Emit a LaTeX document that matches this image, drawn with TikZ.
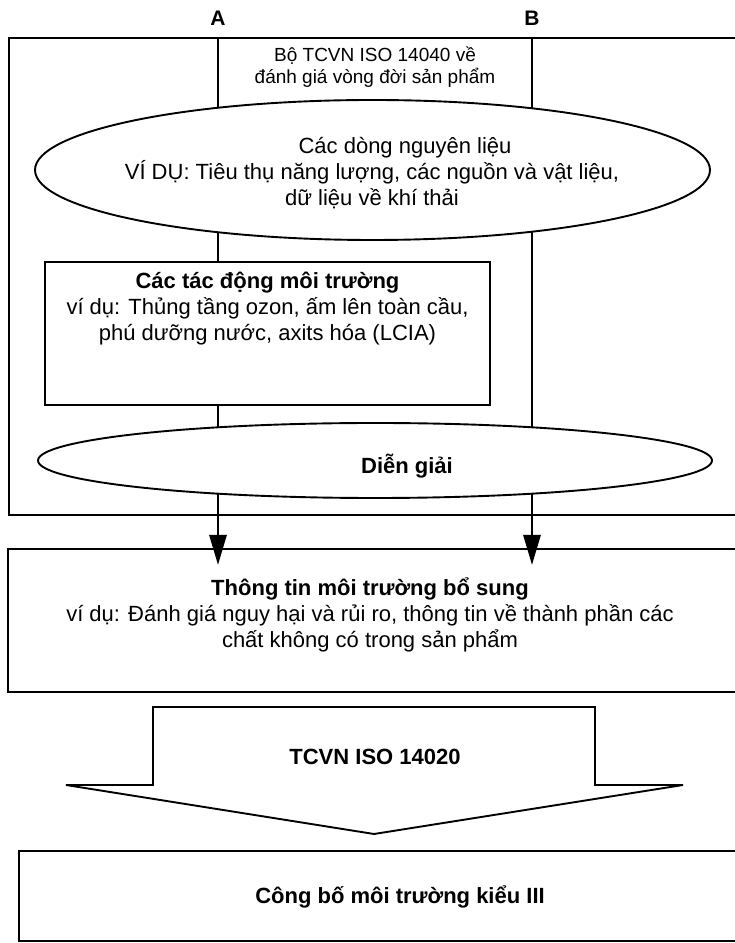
\documentclass[tikz,border=0pt]{standalone}
\usepackage{fontspec}
\setmainfont{Liberation Sans}
\usetikzlibrary{arrows.meta,shapes.geometric}

\begin{document}
\begin{tikzpicture}[x=1pt, y=1pt,
  frame/.style={draw, line width=1.9pt, fill=white, inner sep=0pt},
  oval/.style={ellipse, draw, line width=1.9pt, fill=white, inner sep=0pt},
  txt/.style={align=center, font=\fontsize{22}{26}\selectfont, inner sep=0pt},
  bold/.style={font=\fontsize{22}{26}\selectfont\bfseries, inner sep=0pt},
  head/.style={font=\fontsize{21}{24}\selectfont\bfseries, inner sep=1pt},
  flow/.style={line width=2.8pt, -{Triangle[length=30pt, width=17pt]}}]
  \useasboundingbox (0,0) rectangle (735,943);
  \clip (0,0) rectangle (735,943);
  % streams A and B
  \node[head] (A) at (218,925) {A};
  \node[head] (B) at (532,925) {B};
  % life cycle frame
  \node[frame, fill=none, anchor=north west, minimum width=737pt, minimum height=477pt] (lca) at (8,906) {};
  \node[txt, font=\fontsize{19}{22}\selectfont] (iso) at (375,876) {Bộ TCVN ISO 14040 về\\đánh giá vòng đời sản phẩm};
  % additional information
  \node[frame, anchor=north west, minimum width=738pt, minimum height=143pt] (info) at (7,395) {};
  \node[txt] (infotext) at (370,328) {\textbf{Thông tin môi trường bổ sung}\\ví dụ: Đánh giá nguy hại và rủi ro, thông tin về thành phần các\\chất không có trong sản phẩm};
  \draw[flow] (A |- lca.north) -- ([yshift=-17pt]A |- info.north);
  \draw[flow] (B |- lca.north) -- ([yshift=-17pt]B |- info.north);
  % inventory, impacts, interpretation
  \node[oval, minimum width=675pt, minimum height=140pt] (flows) at (372.5,773) {};
  \node[txt] (flowtext) at (372,770) {\hspace*{66pt}Các dòng nguyên liệu\\VÍ DỤ: Tiêu thụ năng lượng, các nguồn và vật liệu,\\dữ liệu về khí thải};
  \node[frame, minimum width=445pt, minimum height=143pt] (impact) at (267.5,609.5) {};
  \node[txt] (impacttext) at (267.5,634) {\textbf{Các tác động môi trường}\\ví dụ: Thủng tầng ozon, ấm lên toàn cầu,\\phú dưỡng nước, axits hóa (LCIA)};
  \node[oval, minimum width=674pt, minimum height=75pt] (interp) at (375,482.5) {};
  \node[bold] (interptext) at (407,477) {Diễn giải};
  % big arrow
  \draw[line width=1.9pt] (153,236) -- (595,236) -- (595,158) -- (683,158) -- (374,109) -- (66,158) -- (153,158) -- cycle;
  \node[bold] (std) at (375,186) {TCVN ISO 14020};
  % declaration
  \node[frame, anchor=north west, minimum width=727pt, minimum height=90pt] (decl) at (18,93) {};
  \node[bold] (decltext) at (400,46) {Công bố môi trường kiểu III};
\end{tikzpicture}
\end{document}
